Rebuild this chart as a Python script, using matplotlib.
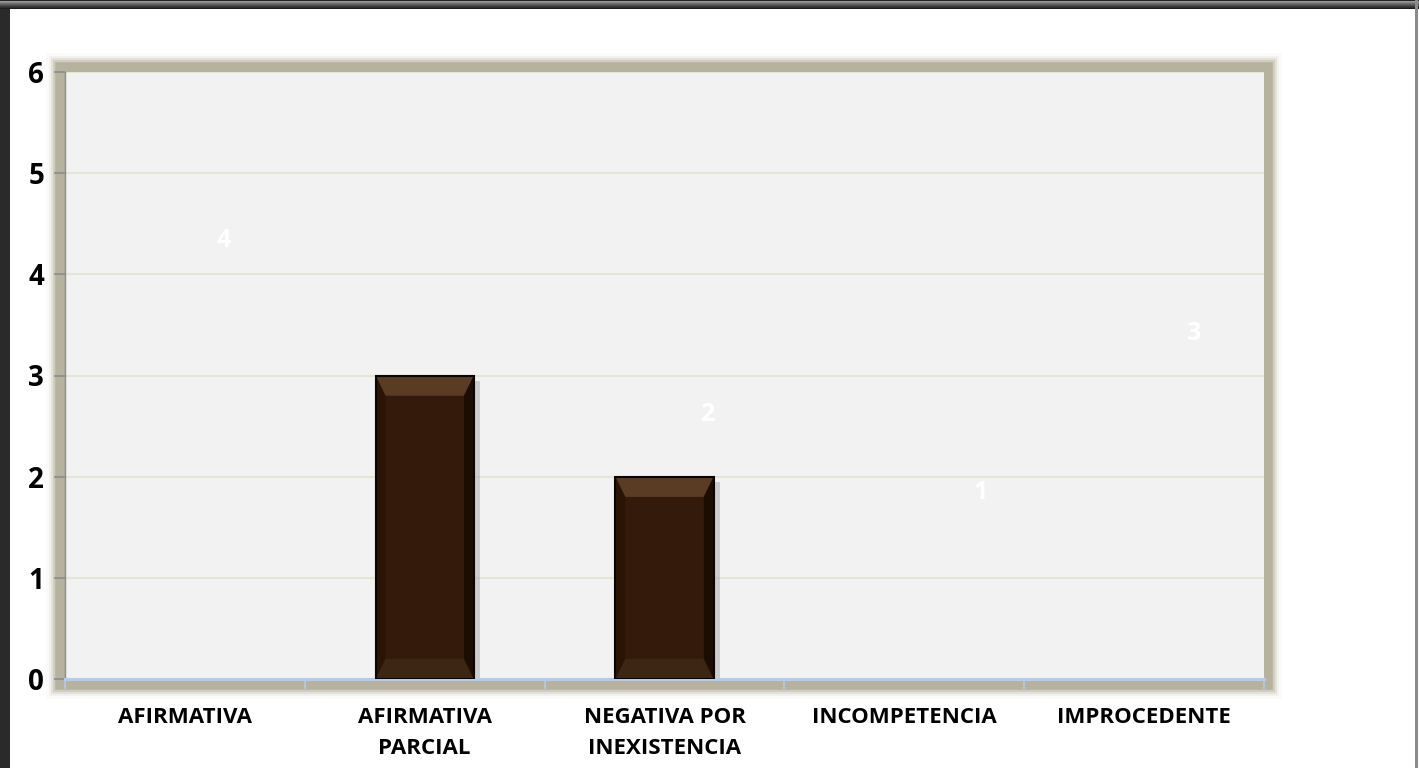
import matplotlib
matplotlib.use("Agg")
import matplotlib.pyplot as plt
from matplotlib.patches import Rectangle, Polygon

# data
categories = ["AFIRMATIVA", "AFIRMATIVA\nPARCIAL", "NEGATIVA POR\nINEXISTENCIA",
              "INCOMPETENCIA", "IMPROCEDENTE"]
values = [0, 3, 2, 0, 0]
yticks = [0, 1, 2, 3, 4, 5, 6]

# stray white data labels seen on the chart
label_text = ["4", "2", "1", "3"]
label_cat = [0, 2, 3, 4]
label_y = [4.33, 2.61, 1.84, 3.42]
label_dx = [0.16, 0.18, 0.32, 0.21]

FONT = "Open Sans"

W, H = 1419, 768
fig = plt.figure(figsize=(W / 100, H / 100), dpi=100)
fig.patch.set_facecolor("white")

ax_l, ax_r, ax_b, ax_t = 65, 1264, 89, 696
ax = fig.add_axes([ax_l / W, ax_b / H, (ax_r - ax_l) / W, (ax_t - ax_b) / H])


def px(x0, y0, w, h):
    return (x0 / W, y0 / H), w / W, h / H


# soft shadow behind the plot area
for grow, alpha in [(10, 0.06), (7, 0.12), (5, 0.22), (3, 0.4), (1, 0.7)]:
    xy, w, h = px(ax_l - 9 - grow, ax_b - 10 - grow, ax_r - ax_l + 17 + 2 * grow,
                  ax_t - ax_b + 19 + 2 * grow)
    fig.patches.append(Rectangle(xy, w, h, transform=fig.transFigure,
                                 facecolor="#b4b09a", edgecolor="none",
                                 alpha=alpha, zorder=0))
xy, w, h = px(ax_l - 9, ax_b - 10, ax_r - ax_l + 17, ax_t - ax_b + 19)
fig.patches.append(Rectangle(xy, w, h, transform=fig.transFigure,
                             facecolor="#b6b29e", edgecolor="none", zorder=0.5))

# outer dark frame
xy, w, h = px(0, 0, 10, H)
fig.patches.append(Rectangle(xy, w, h, transform=fig.transFigure,
                             facecolor="#2a2a2a", edgecolor="none", zorder=5))
for i, c in enumerate(["#1e1e1e", "#2e2e2e", "#3c3c3c", "#4c4c4c", "#5e5e5e",
                       "#707070", "#848484", "#9a9a9a", "#222222"]):
    xy, w, h = px(0, H - 9 + i, W, 1)
    fig.patches.append(Rectangle(xy, w, h, transform=fig.transFigure,
                                 facecolor=c, edgecolor="none", zorder=5))
xy, w, h = px(1415, 0, 3, H)
fig.patches.append(Rectangle(xy, w, h, transform=fig.transFigure,
                             facecolor="#8a8a8a", edgecolor="none", zorder=5))

ax.set_facecolor("#f2f2f2")
ax.set_zorder(1)

x = list(range(len(categories)))
bars = ax.bar(x, values, width=0.41, color="#341a0a", linewidth=0, zorder=3)

# bevel look on each bar
for r in bars:
    x0, w, hgt = r.get_x(), r.get_width(), r.get_height()
    if hgt <= 0:
        continue
    dx, dy = w * 0.1, 0.2
    ax.add_patch(Rectangle((x0 + w + 0.005, 0), 0.02, hgt - 0.05,
                           facecolor="#a0a0a0", alpha=0.45, edgecolor="none", zorder=2))
    ax.add_patch(Polygon([(x0, hgt), (x0 + w, hgt), (x0 + w - dx, hgt - dy),
                          (x0 + dx, hgt - dy)], closed=True,
                         facecolor="#5a3b24", edgecolor="none", zorder=4))
    ax.add_patch(Polygon([(x0, 0), (x0 + w, 0), (x0 + w - dx, dy), (x0 + dx, dy)],
                         closed=True, facecolor="#3e2615", edgecolor="none", zorder=4))
    ax.add_patch(Polygon([(x0, 0), (x0 + dx, dy), (x0 + dx, hgt - dy), (x0, hgt)],
                         closed=True, facecolor="#2a1406", edgecolor="none", zorder=4))
    ax.add_patch(Polygon([(x0 + w, 0), (x0 + w - dx, dy), (x0 + w - dx, hgt - dy),
                          (x0 + w, hgt)], closed=True, facecolor="#1c0c02",
                         edgecolor="none", zorder=4))
    ax.add_patch(Rectangle((x0, 0), w, hgt, facecolor="none",
                           edgecolor="#0a0502", linewidth=1.5, zorder=5))

for t, c, yv, dx in zip(label_text, label_cat, label_y, label_dx):
    ax.text(c + dx, yv, t, color="white", fontsize=18, fontweight="bold",
            family=FONT, ha="center", va="center", zorder=6)

ax.set_xlim(-0.5, len(categories) - 0.5)
ax.set_ylim(0, 6)
ax.set_yticks(yticks)
ax.set_yticklabels([str(v) for v in yticks], fontsize=20, fontweight="bold",
                   family=FONT)
ax.tick_params(axis="y", length=8, width=1.2, color="#8c8c8c", pad=7)
ax.grid(axis="y", color="#e2e6d4", linewidth=1.5, zorder=1)
ax.set_axisbelow(True)

ax.set_xticks(x)
ax.set_xticklabels(categories, fontsize=16, fontweight="bold", family=FONT,
                   linespacing=1.65, va="top")
ax.tick_params(axis="x", which="major", length=0, pad=20)
ax.set_xticks([i + 0.5 for i in range(-1, len(categories))], minor=True)
ax.tick_params(axis="x", which="minor", length=7, width=1.2, color="#b7cbe6",
               direction="out")

for s in ["top", "right"]:
    ax.spines[s].set_visible(False)
ax.spines["left"].set_color("#8c8c8c")
ax.spines["left"].set_linewidth(1)
ax.spines["bottom"].set_color("#b7cbe6")
ax.spines["bottom"].set_linewidth(2.2)

fig.savefig("out.png", dpi=100, facecolor=fig.get_facecolor())
